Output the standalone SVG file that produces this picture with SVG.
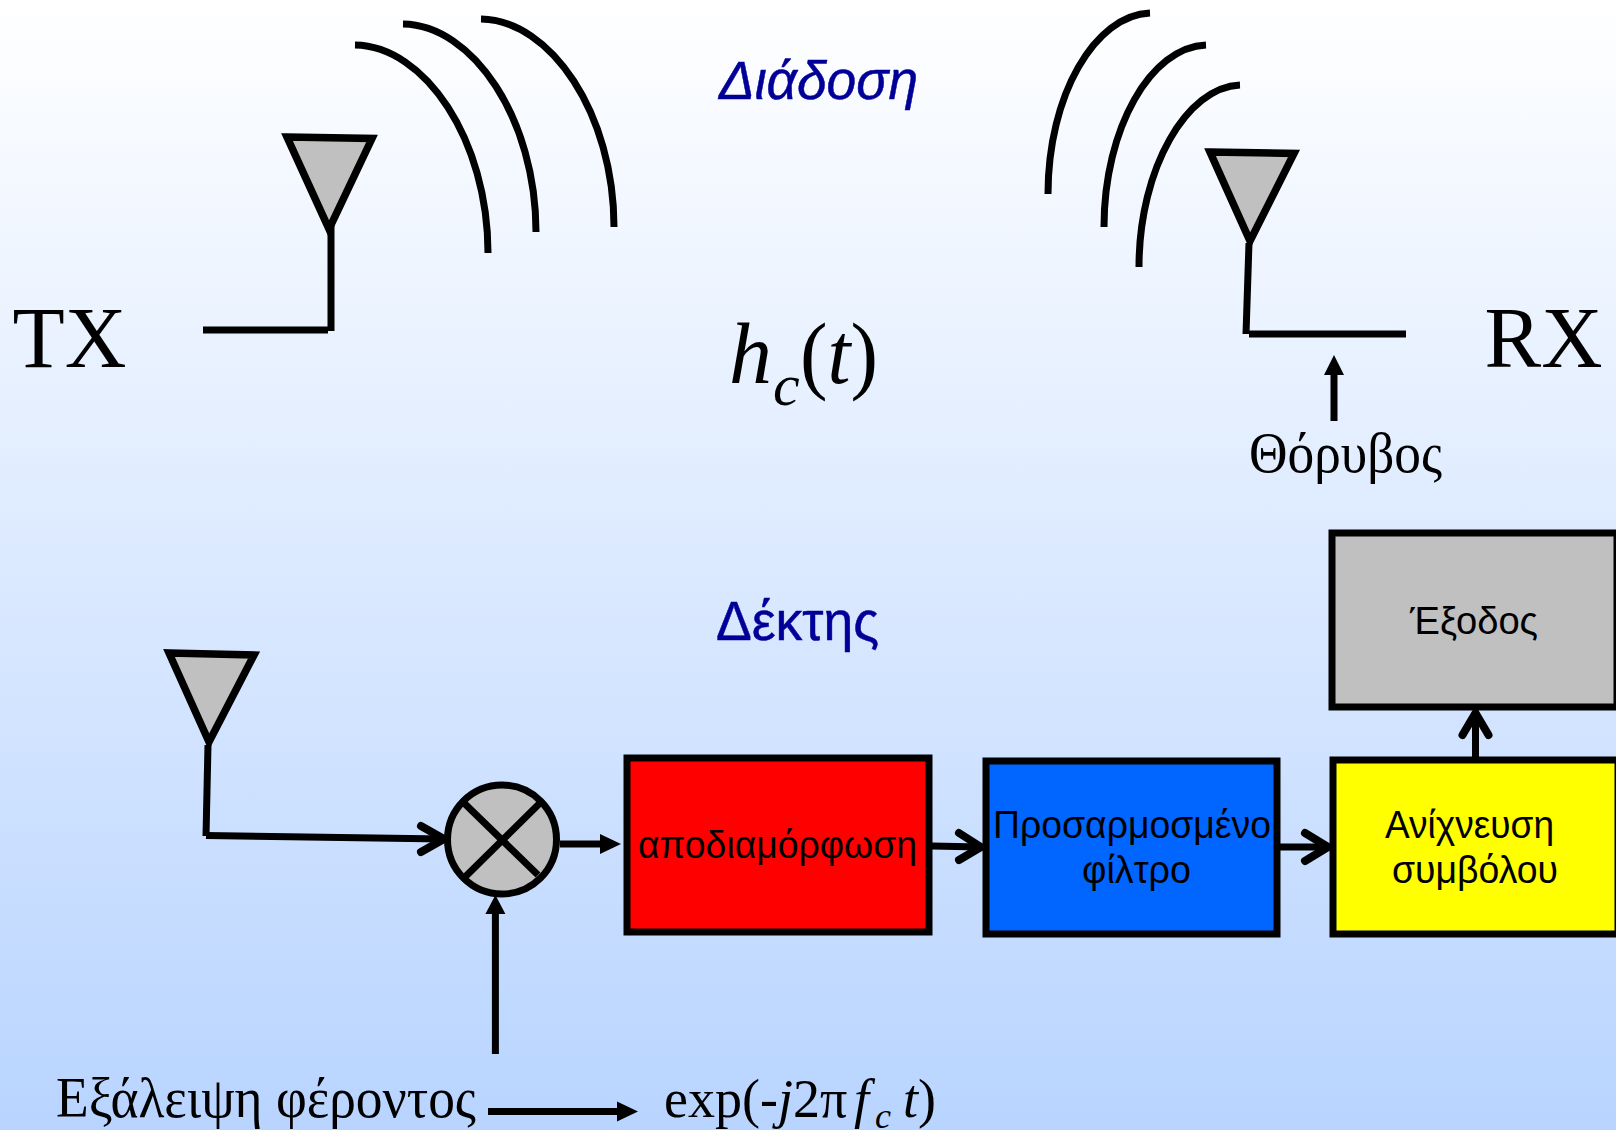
<svg xmlns="http://www.w3.org/2000/svg" width="1616" height="1130" viewBox="0 0 1616 1130">
<style>
.l{fill:none;stroke:#000;stroke-width:7}
.h{fill:none;stroke:#000;stroke-width:8;stroke-linecap:round;stroke-linejoin:round}
.b{stroke:#000;stroke-width:7}
.ant{fill:#c0c0c0;stroke:#000;stroke-width:7.5}
.s{font-family:"Liberation Sans",Arial,sans-serif;font-size:38px;fill:#000}
.t{font-family:"Liberation Serif","Times New Roman",serif;fill:#000}
.blue{font-family:"Liberation Sans",Arial,sans-serif;fill:#000099;stroke:#000099;stroke-width:.5}
</style>
<defs>
<linearGradient id="bg" x1="0" y1="0" x2="0" y2="1"><stop offset="0" stop-color="#ffffff"/><stop offset="1" stop-color="#b8d4ff"/></linearGradient>
</defs>
<rect id="background" width="1616" height="1130" fill="url(#bg)"/>
<g id="connectors">
<path class="l" d="M355,45C425,46 488,140 488,253"/>
<path class="l" d="M403,24C473,25 536,119 536,232"/>
<path class="l" d="M481,19C551,20 614,114 614,227"/>
<path class="l" d="M1150,13C1095,15 1048,95 1048,194"/>
<path class="l" d="M1206,45C1151,47 1104,128 1104,227"/>
<path class="l" d="M1240,85C1187,87 1139,168 1139,267"/>
<path class="l" d="M331,222V331M203,330H328"/>
<path class="l" d="M1249,243L1246,334M1249,334H1406"/>
<path class="l" d="M208,745L206,836"/>
<path class="l" d="M206,835.5L444,839"/>
<path class="h" d="M421,826L444,839L421,852"/>
<path class="l" d="M560,844H602"/><path d="M600,834L621,844L600,854Z"/>
<path class="l" d="M932,846L980,847"/><path class="h" d="M959,833L981,847L959,860"/>
<path class="l" d="M1280,847H1327"/><path class="h" d="M1305,833L1328,847L1305,861"/>
<path class="l" d="M1475.5,757V715"/><path class="h" d="M1462.5,735L1475.5,713L1488.5,735"/>
<path class="l" d="M495.4,1054V912"/><path d="M485.4,914L495.4,895L505.4,914Z"/>
<path class="l" d="M1334,421V373"/><path d="M1324,375L1334,355L1344,375Z"/>
<path class="l" d="M488,1111.5H619"/><path d="M617,1101.5L638,1111.5L617,1121.5Z"/>
</g>
<g id="tx-antenna"><path class="ant" d="M287,137L372,138.5L329,229Z"/></g>
<g id="rx-antenna"><path class="ant" d="M1210,152L1294,153.5L1250,241Z"/></g>
<g id="receiver-antenna"><path class="ant" d="M169,653L254,655L209,742Z"/></g>
<g id="mixer"><circle class="ant" cx="502" cy="839.5" r="54.5" style="stroke-width:7"/><path class="l" d="M464,803L538,875M540,803L465,877"/></g>
<g id="demod"><rect class="b" x="627" y="758" width="302" height="174" fill="#ff0000"/><text class="s" x="638" y="858" textLength="279" lengthAdjust="spacingAndGlyphs">αποδιαμόρφωση</text></g>
<g id="filter"><rect class="b" x="986" y="761" width="291" height="173" fill="#0066ff"/><text class="s" x="993" y="838" textLength="278" lengthAdjust="spacingAndGlyphs">Προσαρμοσμένο</text><text class="s" x="1082" y="883" textLength="109" lengthAdjust="spacingAndGlyphs">φίλτρο</text></g>
<g id="detector"><rect class="b" x="1333" y="760" width="285" height="174" fill="#ffff00"/><text class="s" x="1385" y="838" textLength="169" lengthAdjust="spacingAndGlyphs">Ανίχνευση</text><text class="s" x="1392" y="883" textLength="166" lengthAdjust="spacingAndGlyphs">συμβόλου</text></g>
<g id="output"><rect class="b" x="1332" y="533" width="285" height="174" fill="#c0c0c0"/><text class="s" x="1410" y="634" textLength="128" lengthAdjust="spacingAndGlyphs">Έξοδος</text></g>
<g id="labels">
<text class="t" x="12.5" y="367" font-size="87" textLength="114" lengthAdjust="spacingAndGlyphs">TX</text>
<text class="t" x="1484.5" y="367" font-size="87" textLength="118" lengthAdjust="spacingAndGlyphs">RX</text>
<text class="t" x="729" y="383" font-size="86" font-style="italic">h</text>
<text class="t" x="773" y="405" font-size="60" font-style="italic">c</text>
<text class="t" x="800" y="383" font-size="86" textLength="78" lengthAdjust="spacingAndGlyphs">(<tspan font-style="italic">t</tspan>)</text>
<text class="t" x="1249" y="472" font-size="56" textLength="193" lengthAdjust="spacingAndGlyphs">Θόρυβος</text>
<text class="t" x="56" y="1117" font-size="56" textLength="420" lengthAdjust="spacingAndGlyphs">Εξάλειψη φέροντος</text>
<text class="t" x="664" y="1117" font-size="54">exp(-<tspan font-style="italic">j</tspan>2π<tspan x="854" font-style="italic">f</tspan><tspan x="875" dy="11" font-size="36" font-style="italic">c</tspan><tspan x="903" dy="-11" font-style="italic">t</tspan>)</text>
<text class="blue" x="719" y="99" font-size="54" font-style="italic" textLength="199" lengthAdjust="spacingAndGlyphs">Διάδοση</text>
<text class="blue" x="716" y="640" font-size="55" textLength="163" lengthAdjust="spacingAndGlyphs">Δέκτης</text>
</g>
</svg>
